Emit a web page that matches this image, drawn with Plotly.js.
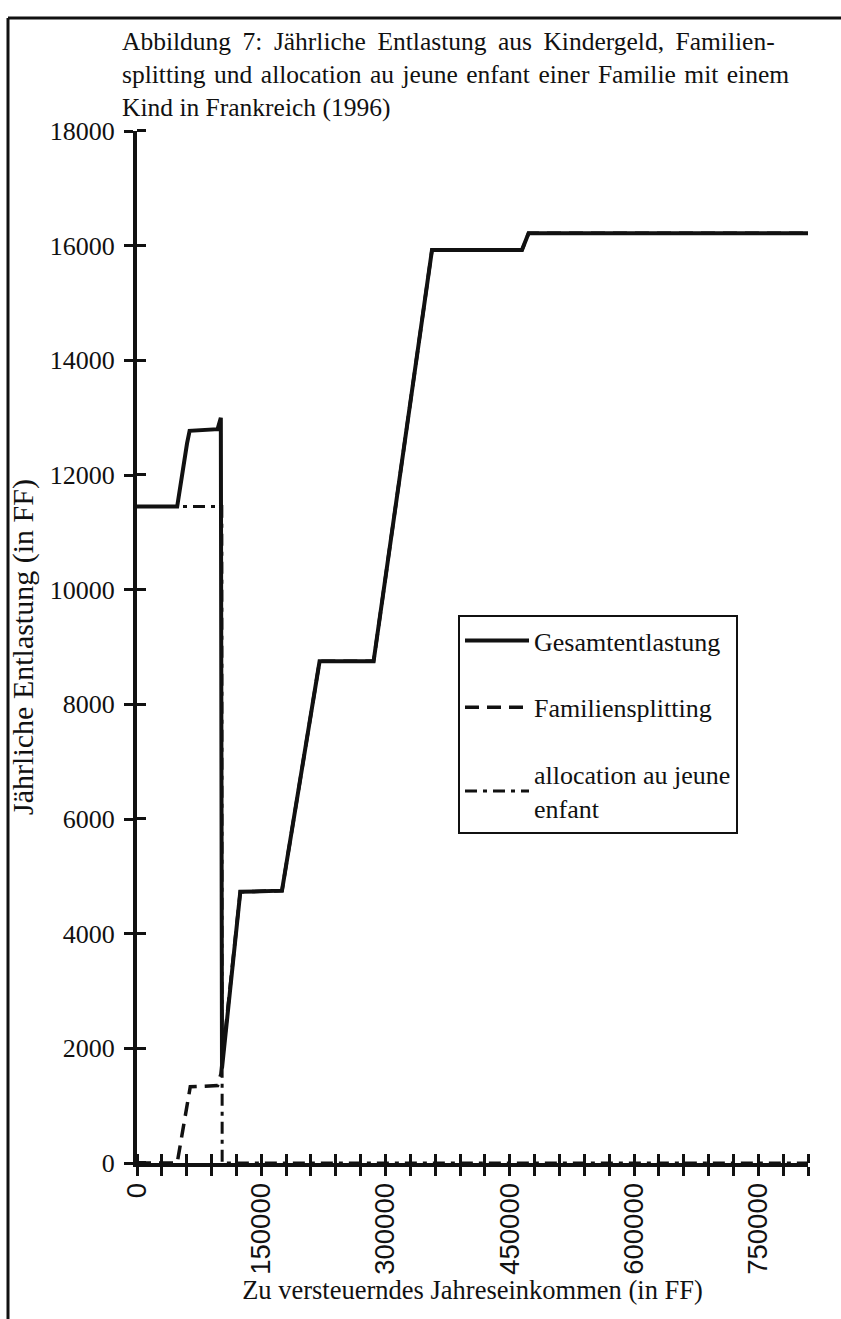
<!DOCTYPE html>
<html>
<head>
<meta charset="utf-8">
<script src="https://cdn.plot.ly/plotly-3.0.1.min.js"></script>
<style>html,body{margin:0;padding:0;background:#fff;}#chart{width:841px;height:1319px;}</style>
</head>
<body>
<div id="chart"></div>
<script>
// Zu versteuerndes Jahreseinkommen (FF) and annual relief (FF)
const gesamtX = [0, 48500, 60400, 63500, 97300, 101200, 102600, 124700, 175000, 220400, 285600, 350800, 356100, 464700, 472700, 810000];
const gesamtY = [11450, 11450, 12550, 12770, 12800, 13000, 1650, 4730, 4750, 8750, 8750, 15450, 15925, 15925, 16215, 16215];

const splitX = [0, 48500, 64300, 97300, 101200, 124700, 175000, 220400, 285600, 350800, 356100, 464700, 472700, 810000];
const splitY = [0, 0, 1330, 1350, 1550, 4730, 4750, 8750, 8750, 15450, 15925, 15925, 16215, 16215];

const apjeX = [0, 102400, 102800, 810000];
const apjeY = [11450, 11450, 0, 0];

const xTickVals = [0, 30000, 60000, 90000, 120000, 150000, 180000, 210000, 240000, 270000, 300000, 330000, 360000, 390000,
  420000, 450000, 480000, 510000, 540000, 570000, 600000, 630000, 660000, 690000, 720000, 750000, 780000, 810000];
const xTickText = ['0', '', '', '', '', '150000', '', '', '', '', '300000', '', '', '', '', '450000', '', '', '', '',
  '600000', '', '', '', '', '750000', '', ''];
const yTickVals = [0, 2000, 4000, 6000, 8000, 10000, 12000, 14000, 16000, 18000];
const yTickText = ['0', '2000', '4000', '6000', '8000', '10000', '12000', '14000', '16000', '18000'];

const seriesNames = ['Gesamtentlastung', 'Familiensplitting', 'allocation au jeune<br>enfant'];
const titleLines = [
  'Abbildung\u2009 7:\u2009 Jährliche\u2009 Entlastung\u2009 aus\u2009 Kindergeld,\u2009 Familien-',
  'splitting\u200A und\u200A allocation\u200A au\u200A jeune\u200A enfant\u200A einer\u200A Familie\u200A mit\u200A einem',
  'Kind in Frankreich (1996)'
];
const xTitle = 'Zu versteuerndes Jahreseinkommen (in FF)';
const yTitle = 'Jährliche Entlastung (in FF)';
const xRange = [0, 810000];
const yRange = [0, 18000];

const serif = '"Liberation Serif", "Times New Roman", Tinos, Times, serif';
const sans = '"Liberation Sans", Arial, sans-serif';

const traces = [
  {x: apjeX, y: apjeY, type: 'scatter', mode: 'lines', name: seriesNames[2], legendrank: 3, legendgroup: 'c',
   line: {color: '#111', width: 3, dash: '12px,6px,4px,6px'}},
  {x: splitX, y: splitY, type: 'scatter', mode: 'lines', name: seriesNames[1], legendrank: 2, legendgroup: 'b',
   line: {color: '#111', width: 3.5, dash: '14px,8px'}},
  {x: gesamtX, y: gesamtY, type: 'scatter', mode: 'lines', name: seriesNames[0], legendrank: 1, legendgroup: 'a',
   line: {color: '#111', width: 4}}
];

const axisCommon = {showgrid: false, zeroline: false, showline: true, linecolor: '#111', linewidth: 4,
  tickcolor: '#111', tickwidth: 3, ticklen: 9};

const layout = {
  width: 841, height: 1319,
  margin: {l: 137, r: 33, t: 131, b: 156},
  paper_bgcolor: '#fff', plot_bgcolor: '#fff',
  showlegend: true,
  font: {family: serif, color: '#111', size: 26},
  title: {text: titleLines.join('<br>'), x: 122/841, xref: 'container', xanchor: 'left', y: 1 - 50/1319, yref: 'container', yanchor: 'top',
          pad: {t: 0, b: 0, l: 0, r: 0}, font: {family: serif, size: 25.5, color: '#111'}},
  xaxis: Object.assign({}, axisCommon, {
    range: xRange, tickmode: 'array', tickvals: xTickVals, ticktext: xTickText, ticks: 'outside', tickangle: -90,
    tickfont: {family: sans, size: 27.5, color: '#111'}, ticklabelstandoff: -4,
    minor: {tickmode: 'array', tickvals: xTickVals.map(v => v + 1), ticks: 'inside', ticklen: 9, tickwidth: 3, tickcolor: '#111', showgrid: false},
    title: {text: xTitle, font: {family: serif, size: 26.5, color: '#111'}, standoff: 8},
    anchor: 'y'
  }),
  yaxis: Object.assign({}, axisCommon, {
    range: yRange, tickmode: 'array', tickvals: yTickVals, ticktext: yTickText, ticks: 'outside',
    tickfont: {family: serif, size: 26, color: '#111'}, ticklabelstandoff: 4,
    minor: {tickmode: 'array', tickvals: yTickVals.map(v => v + 1), ticks: 'inside', ticklen: 9, tickwidth: 3, tickcolor: '#111', showgrid: false},
    title: {text: yTitle, font: {family: serif, size: 30, color: '#111'}, standoff: 8},
    anchor: 'x'
  }),
  legend: {
    x: (458 - 137) / 671, y: (1163 - 615) / 1032, xanchor: 'left', yanchor: 'top',
    bordercolor: '#111', borderwidth: 2, bgcolor: '#fff',
    font: {family: serif, size: 26, color: '#111'},
    tracegroupgap: 30, traceorder: 'grouped', itemwidth: 64
  },
  shapes: [
    {type: 'line', xref: 'paper', yref: 'paper', x0: (8 - 137) / 671, x1: (8 - 137) / 671, y0: (1163 - 1319) / 1032, y1: (1163 - 18) / 1032,
     line: {color: '#111', width: 3}},
    {type: 'line', xref: 'paper', yref: 'paper', x0: (8 - 137) / 671, x1: (841 - 137) / 671, y0: (1163 - 18) / 1032, y1: (1163 - 18) / 1032,
     line: {color: '#111', width: 3}}
  ]
};

Plotly.newPlot('chart', traces, layout, {displayModeBar: false, responsive: false});
</script>
</body>
</html>
